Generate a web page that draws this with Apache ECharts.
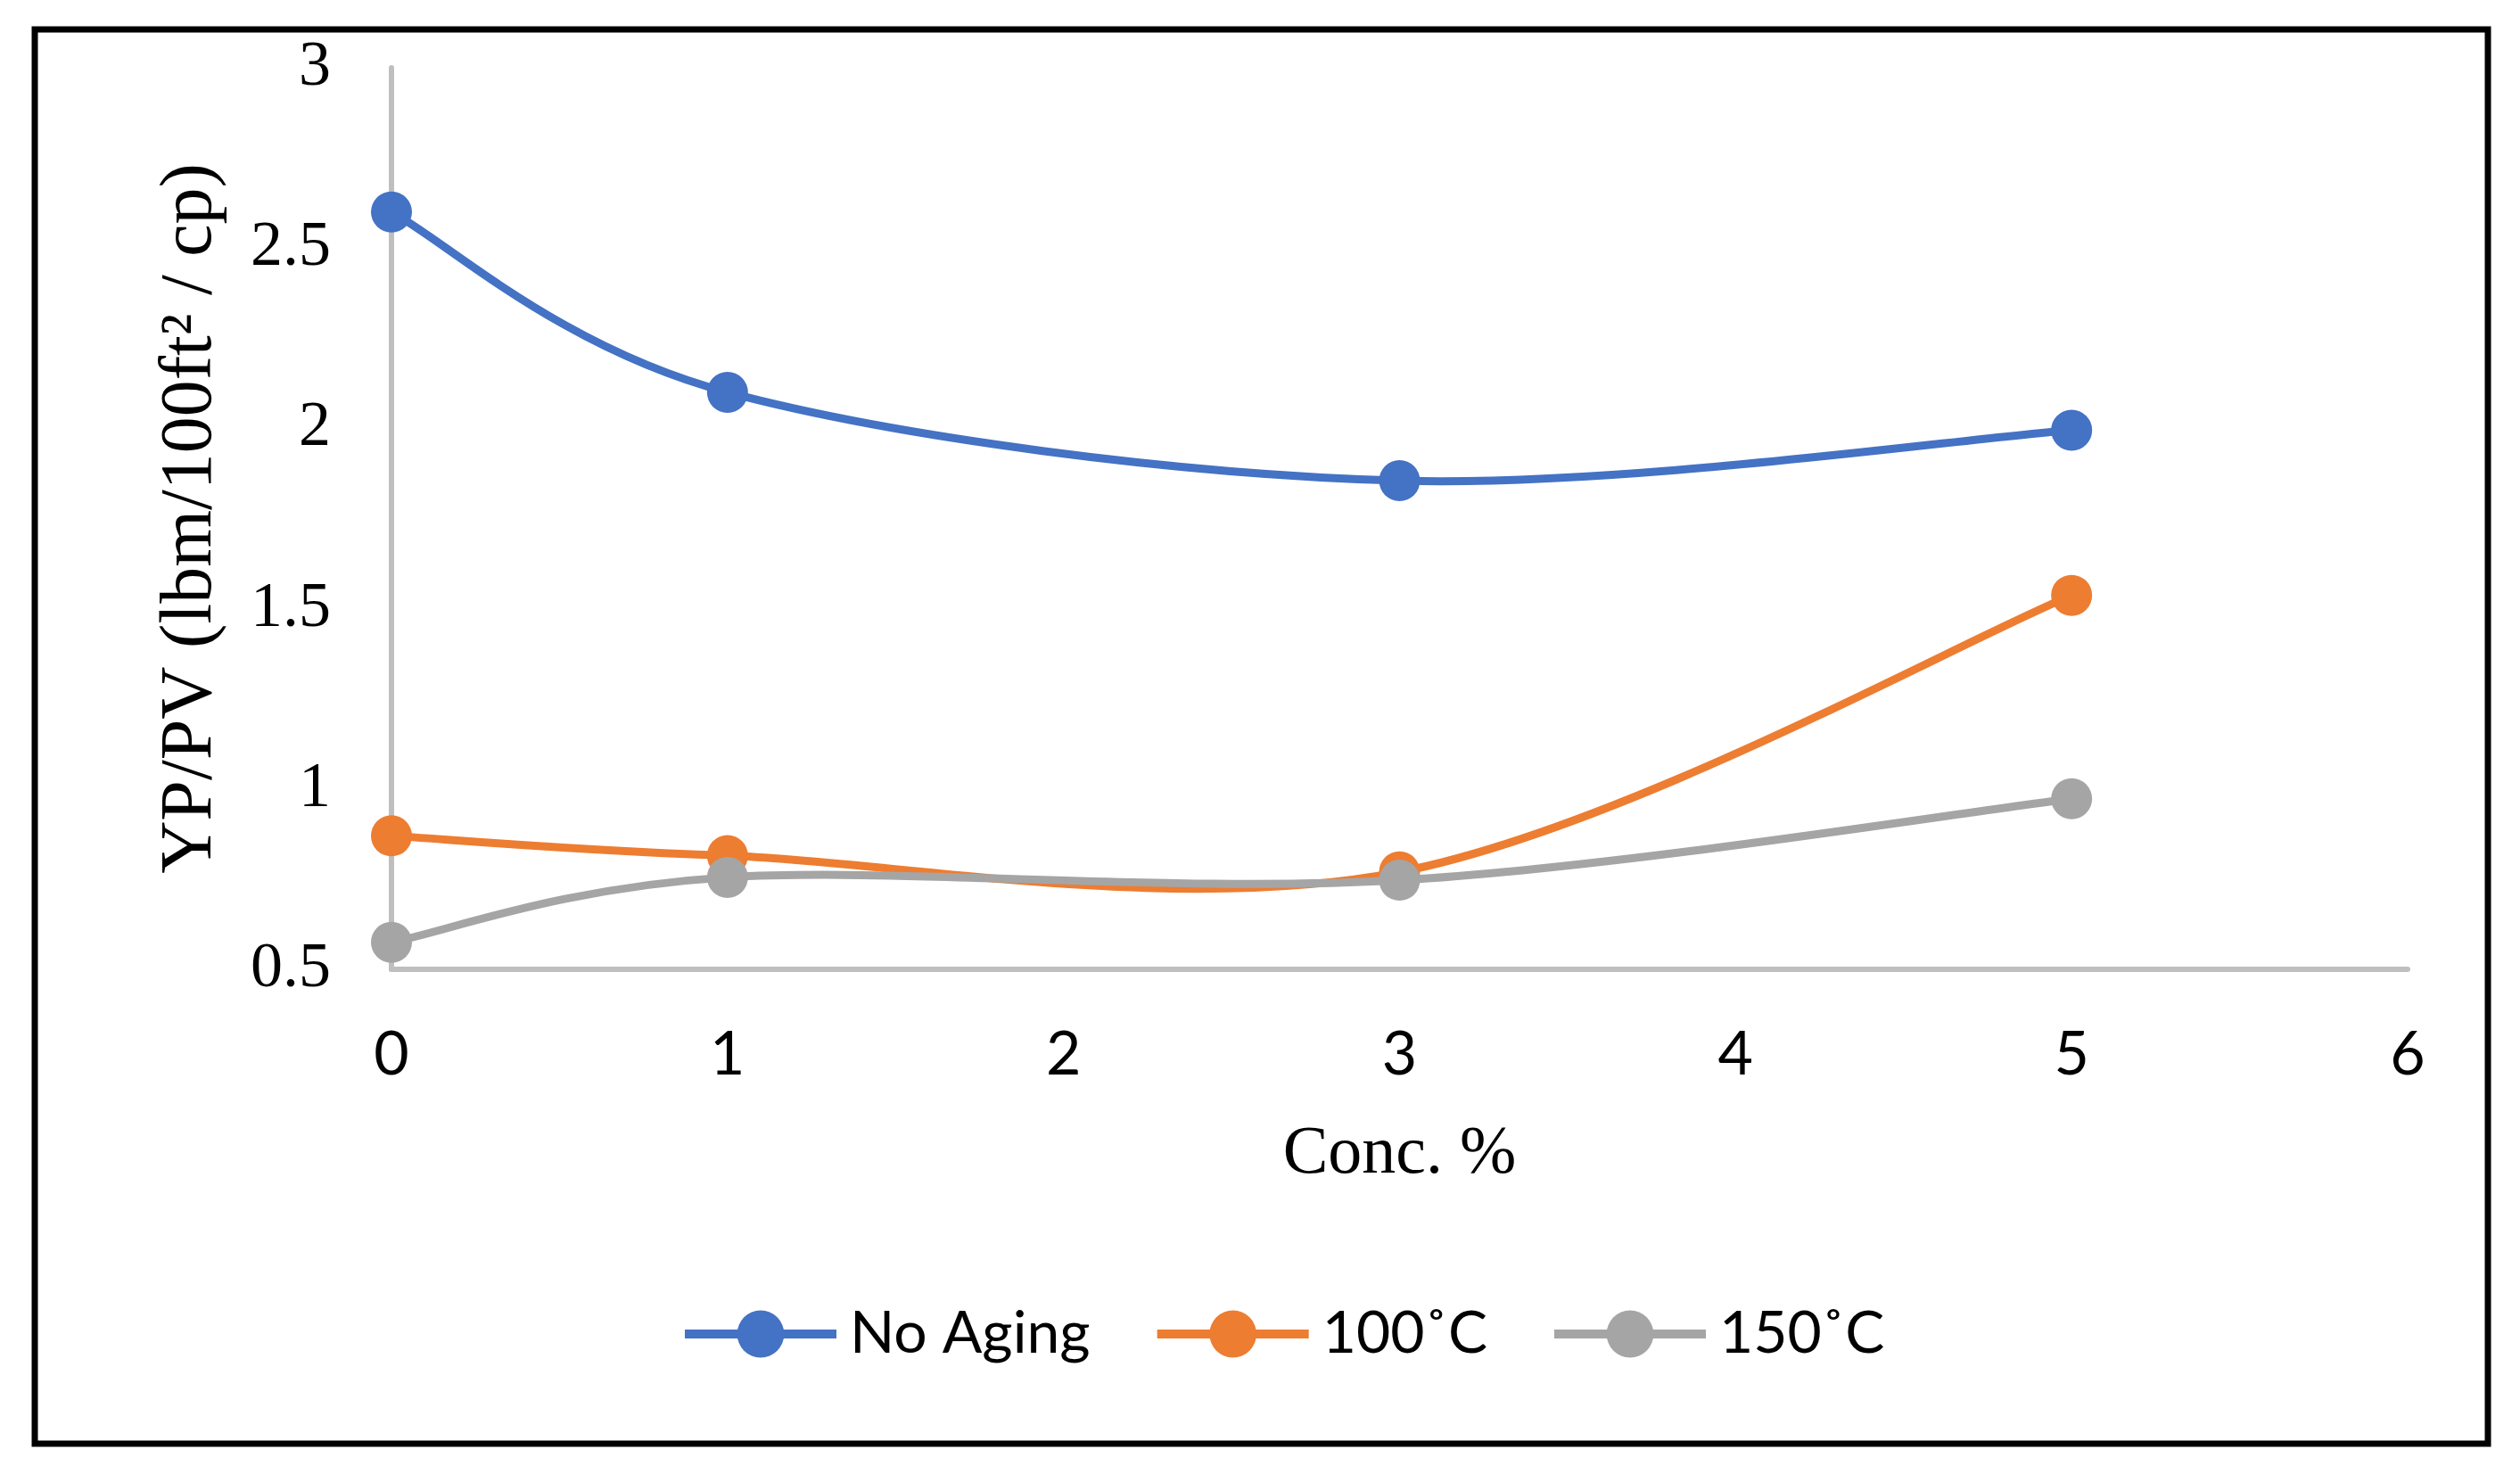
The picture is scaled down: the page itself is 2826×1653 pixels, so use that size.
<!DOCTYPE html>
<html>
<head>
<meta charset="utf-8">
<script src="https://cdn.jsdelivr.net/npm/echarts@6/dist/echarts.min.js"></script>
<style>
html,body{margin:0;padding:0;background:#fff;}
#chart{width:2826px;height:1653px;}
</style>
</head>
<body>
<div id="chart"></div>
<script>
const concentrations = [0, 1, 3, 5];
const noAging = [2.6, 2.1, 1.855, 1.995];
const aged100 = [0.87, 0.815, 0.77, 1.537];
const aged150 = [0.575, 0.755, 0.747, 0.973];
const seriesNames = ['No Aging', '100˚C', '150˚C'];
const xTicks = [0, 1, 2, 3, 4, 5, 6];
const yTicks = [0.5, 1, 1.5, 2, 2.5, 3];

const colors = ['#4472C4', '#ED7D31', '#A5A5A5'];
const toPairs = arr => concentrations.map((c, i) => [c, arr[i]]);
const seriesData = [noAging, aged100, aged150];

// Spreadsheet-style smoothed curve (Catmull-Rom as cubic Bezier) through points given by the axis scales
function smoothPath(pts) {
  let d = 'M' + pts[0][0] + ' ' + pts[0][1];
  for (let i = 0; i < pts.length - 1; i++) {
    const p0 = pts[Math.max(i - 1, 0)], p1 = pts[i], p2 = pts[i + 1], p3 = pts[Math.min(i + 2, pts.length - 1)];
    const c1 = [p1[0] + (p2[0] - p0[0]) / 6, p1[1] + (p2[1] - p0[1]) / 6];
    const c2 = [p2[0] - (p3[0] - p1[0]) / 6, p2[1] - (p3[1] - p1[1]) / 6];
    d += ' C' + c1[0] + ' ' + c1[1] + ' ' + c2[0] + ' ' + c2[1] + ' ' + p2[0] + ' ' + p2[1];
  }
  return d;
}

const markerSeries = seriesNames.map((name, i) => ({
  name: name,
  type: 'line',
  data: toPairs(seriesData[i]),
  symbol: 'circle',
  symbolSize: 46,
  lineStyle: {color: colors[i], width: 10, opacity: 0},
  itemStyle: {color: colors[i]},
  z: 5 + i
}));

const curveSeries = seriesNames.map((name, i) => ({
  name: name,
  type: 'custom',
  data: toPairs(seriesData[i]),
  z: 2 + i,
  renderItem: function (params, api) {
    if (params.dataIndex !== 0) return null;
    const pts = toPairs(seriesData[i]).map(p => api.coord(p));
    return {
      type: 'path',
      shape: {pathData: smoothPath(pts)},
      style: {fill: 'none', stroke: colors[i], lineWidth: 9}
    };
  }
}));

const chart = echarts.init(document.getElementById('chart'));
chart.setOption({
  animation: false,
  backgroundColor: '#fff',
  graphic: [{
    type: 'rect',
    shape: {x: 39, y: 33, width: 2751, height: 1586},
    style: {fill: 'none', stroke: '#000', lineWidth: 7},
    silent: true
  }],
  grid: {left: 439, right: 126, top: 76, bottom: 566},
  legend: {
    left: 758,
    top: 1458,
    itemWidth: 170,
    itemHeight: 66,
    itemGap: 70,
    data: seriesNames,
    lineStyle: {width: 10, opacity: 1},
    textStyle: {fontFamily: 'Lato, sans-serif', fontSize: 66, color: '#000', padding: [0, 0, 0, 10]}
  },
  xAxis: {
    type: 'value',
    min: xTicks[0],
    max: xTicks[xTicks.length - 1],
    interval: 1,
    name: 'Conc. %',
    nameLocation: 'middle',
    nameGap: 170,
    nameTextStyle: {fontFamily: 'Liberation Serif, Times New Roman, serif', fontSize: 76, color: '#000'},
    axisLine: {show: true, lineStyle: {color: '#BFBFBF', width: 6}},
    axisTick: {show: false},
    splitLine: {show: false},
    axisLabel: {margin: 62, fontFamily: 'Lato, sans-serif', fontSize: 68, color: '#000'}
  },
  yAxis: {
    type: 'value',
    min: yTicks[0],
    max: yTicks[yTicks.length - 1],
    interval: 0.5,
    name: 'YP/PV (lbm/100ft² / cp)',
    nameLocation: 'middle',
    nameGap: 184,
    nameTextStyle: {fontFamily: 'Liberation Serif, Times New Roman, serif', fontSize: 82, color: '#000'},
    axisLine: {show: true, lineStyle: {color: '#BFBFBF', width: 6}},
    axisTick: {show: false},
    splitLine: {show: false},
    axisLabel: {margin: 68, fontFamily: 'Liberation Serif, Times New Roman, serif', fontSize: 72, color: '#000'}
  },
  series: markerSeries.concat(curveSeries)
});
</script>
</body>
</html>
